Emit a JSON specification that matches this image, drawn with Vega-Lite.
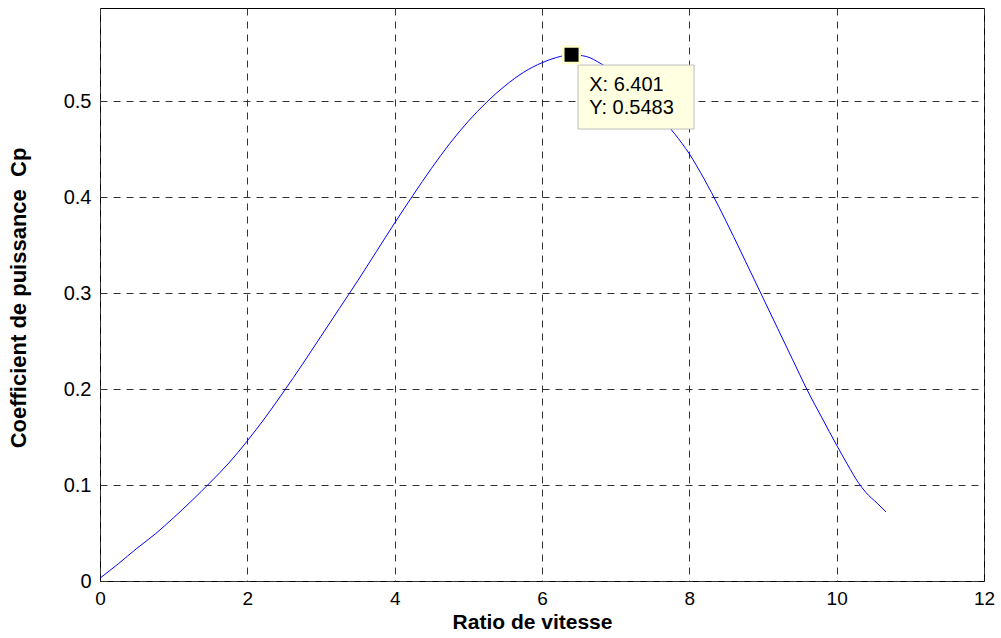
{
  "$schema": "https://vega.github.io/schema/vega-lite/v6.json",
  "width": 884,
  "height": 573,
  "autosize": {"type": "none"},
  "padding": {"left": 100, "top": 8, "right": 17, "bottom": 57},
  "background": "white",
  "config": {
    "view": {"stroke": "black", "strokeWidth": 1},
    "font": "Liberation Sans",
    "axis": {
      "domain": false,
      "ticks": false,
      "grid": true,
      "gridColor": "#333333",
      "gridDash": [7, 6],
      "gridWidth": 1,
      "labelFlush": false,
      "labelFont": "Liberation Sans",
      "labelFontSize": 20,
      "labelColor": "black",
      "titleFont": "Liberation Sans",
      "titleFontWeight": "bold",
      "titleColor": "black"
    }
  },
  "layer": [
    {
      "data": {
        "values": [
          {"lambda": 0, "cp": 0.003},
          {"lambda": 0.25, "cp": 0.018},
          {"lambda": 0.5, "cp": 0.034},
          {"lambda": 0.75, "cp": 0.049},
          {"lambda": 1.0, "cp": 0.066},
          {"lambda": 1.25, "cp": 0.084},
          {"lambda": 1.5, "cp": 0.103},
          {"lambda": 1.75, "cp": 0.123},
          {"lambda": 2.0, "cp": 0.146},
          {"lambda": 2.25, "cp": 0.171},
          {"lambda": 2.5, "cp": 0.198},
          {"lambda": 2.75, "cp": 0.226},
          {"lambda": 3.0, "cp": 0.255},
          {"lambda": 3.25, "cp": 0.284},
          {"lambda": 3.5, "cp": 0.313},
          {"lambda": 3.75, "cp": 0.343},
          {"lambda": 4.0, "cp": 0.373},
          {"lambda": 4.25, "cp": 0.402},
          {"lambda": 4.5, "cp": 0.430},
          {"lambda": 4.75, "cp": 0.456},
          {"lambda": 5.0, "cp": 0.479},
          {"lambda": 5.25, "cp": 0.499},
          {"lambda": 5.5, "cp": 0.516},
          {"lambda": 5.75, "cp": 0.530},
          {"lambda": 6.0, "cp": 0.540},
          {"lambda": 6.2, "cp": 0.5455},
          {"lambda": 6.401, "cp": 0.5483},
          {"lambda": 6.6, "cp": 0.5465},
          {"lambda": 6.8, "cp": 0.539},
          {"lambda": 7.0, "cp": 0.529},
          {"lambda": 7.2, "cp": 0.516},
          {"lambda": 7.4, "cp": 0.501},
          {"lambda": 7.6, "cp": 0.484},
          {"lambda": 7.8, "cp": 0.466},
          {"lambda": 8.0, "cp": 0.445},
          {"lambda": 8.2, "cp": 0.419},
          {"lambda": 8.4, "cp": 0.390},
          {"lambda": 8.6, "cp": 0.359},
          {"lambda": 8.8, "cp": 0.327},
          {"lambda": 9.0, "cp": 0.295},
          {"lambda": 9.2, "cp": 0.263},
          {"lambda": 9.4, "cp": 0.231},
          {"lambda": 9.6, "cp": 0.199},
          {"lambda": 9.8, "cp": 0.170},
          {"lambda": 10.0, "cp": 0.1415},
          {"lambda": 10.15, "cp": 0.121},
          {"lambda": 10.29, "cp": 0.103},
          {"lambda": 10.4, "cp": 0.092},
          {"lambda": 10.55, "cp": 0.081},
          {"lambda": 10.67, "cp": 0.072}
        ]
      },
      "mark": {"type": "line", "color": "#0000ff", "strokeWidth": 1, "interpolate": "monotone"},
      "encoding": {
        "x": {
          "field": "lambda",
          "type": "quantitative",
          "scale": {"domain": [0, 12], "nice": false, "zero": false},
          "axis": {
            "title": "Ratio de vitesse",
            "values": [0, 2, 4, 6, 8, 10, 12],
            "format": "d",
            "labelPadding": 8,
            "labelFontSize": 19,
            "titleFontSize": 21,
            "titleBaseline": "alphabetic",
            "titleX": 432,
            "titleY": 47.5
          }
        },
        "y": {
          "field": "cp",
          "type": "quantitative",
          "scale": {"domain": [0, 0.597], "nice": false, "zero": false},
          "axis": {
            "title": "Coefficient de puissance\u00a0 Cp",
            "values": [0, 0.1, 0.2, 0.3, 0.4, 0.5],
            "format": "~g",
            "labelPadding": 9,
            "titleFontSize": 22,
            "titleBaseline": "alphabetic",
            "titleX": -75,
            "titleY": 289.5
          }
        }
      }
    },
    {
      "data": {"values": [{"lambda": 6.401, "cp": 0.5483, "tx": "X: 6.401", "ty": "Y: 0.5483"}]},
      "encoding": {
        "x": {"field": "lambda", "type": "quantitative"},
        "y": {"field": "cp", "type": "quantitative"}
      },
      "layer": [
        {
          "mark": {
            "type": "point",
            "shape": "M0.13,0.206H2.45V1.486H0.13Z",
            "size": 10000,
            "filled": true,
            "fill": "#ffffe1",
            "stroke": "#bdbdbd",
            "strokeWidth": 1,
            "opacity": 1
          }
        },
        {
          "mark": {"type": "point", "shape": "square", "size": 361, "filled": true, "fill": "#ffffcc", "opacity": 1}
        },
        {
          "mark": {"type": "point", "shape": "square", "size": 196, "filled": true, "fill": "black", "opacity": 1}
        },
        {
          "mark": {"type": "text", "align": "left", "baseline": "alphabetic", "dx": 17.7, "dy": 36.5, "fontSize": 20, "font": "Liberation Sans", "color": "black"},
          "encoding": {"text": {"field": "tx"}}
        },
        {
          "mark": {"type": "text", "align": "left", "baseline": "alphabetic", "dx": 17.7, "dy": 58.8, "fontSize": 20, "font": "Liberation Sans", "color": "black"},
          "encoding": {"text": {"field": "ty"}}
        }
      ]
    }
  ]
}
